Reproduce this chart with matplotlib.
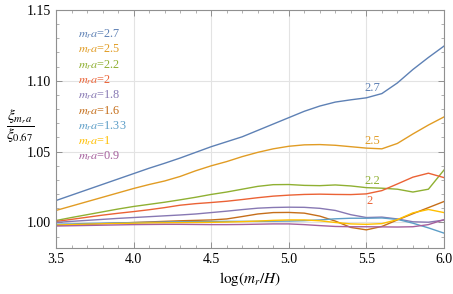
import numpy as np
import matplotlib
matplotlib.use("Agg")
import matplotlib.pyplot as plt
from matplotlib.ticker import MultipleLocator, FormatStrFormatter

plt.rcParams['font.family'] = ['Liberation Serif', 'DejaVu Serif']
plt.rcParams['mathtext.fontset'] = 'stix'

# data
x = [3.5, 3.6, 3.7, 3.8, 3.9, 4.0, 4.1, 4.2, 4.3, 4.4, 4.5, 4.6, 4.7,
     4.8, 4.9, 5.0, 5.1, 5.2, 5.3, 5.4, 5.5, 5.6, 5.7, 5.8, 5.9, 6.0]

labels = ['2.7', '2.5', '2.2', '2', '1.8', '1.6', '1.33', '1', '0.9']
colors = ['#5E81B5', '#E19C24', '#8FB032', '#EB6235', '#8778B3',
          '#C56E1A', '#5D9EC7', '#FFBF00', '#A5609D']

y27 = [1.0155, 1.0193, 1.0231, 1.0269, 1.0307, 1.0345, 1.0383, 1.0418, 1.0455,
       1.0495, 1.0535, 1.0570, 1.0605, 1.0650, 1.0695, 1.0740, 1.0785, 1.0822,
       1.0850, 1.0866, 1.0880, 1.0910, 1.0985, 1.1080, 1.1165, 1.1245]
y25 = [1.0085, 1.0116, 1.0147, 1.0178, 1.0209, 1.0240, 1.0268, 1.0293, 1.0325,
       1.0365, 1.0400, 1.0430, 1.0465, 1.0495, 1.0520, 1.0538, 1.0548, 1.0550,
       1.0545, 1.0535, 1.0525, 1.0520, 1.0558, 1.0625, 1.0688, 1.0745]
y22 = [1.0014, 1.0035, 1.0055, 1.0075, 1.0095, 1.0113, 1.0128, 1.0143, 1.0160,
       1.0178, 1.0198, 1.0215, 1.0235, 1.0255, 1.0267, 1.0268, 1.0262, 1.0260,
       1.0265, 1.0258, 1.0246, 1.0242, 1.0235, 1.0215, 1.0235, 1.0370]
y20 = [1.0007, 1.0022, 1.0037, 1.0052, 1.0065, 1.0077, 1.0090, 1.0105, 1.0122,
       1.0133, 1.0141, 1.0150, 1.0162, 1.0175, 1.0186, 1.0193, 1.0198, 1.0200,
       1.0198, 1.0197, 1.0202, 1.0225, 1.0272, 1.0320, 1.0348, 1.0317]
y18 = [1.0000, 1.0008, 1.0015, 1.0022, 1.0029, 1.0035, 1.0041, 1.0047, 1.0053,
       1.0060, 1.0070, 1.0080, 1.0091, 1.0101, 1.0106, 1.0108, 1.0107, 1.0100,
       1.0085, 1.0055, 1.0035, 1.0038, 1.0025, 1.0005, 1.0002, 1.0017]
y16 = [0.9980, 0.9984, 0.9988, 0.9992, 0.9996, 1.0000, 1.0004, 1.0008, 1.0012,
       1.0015, 1.0018, 1.0025, 1.0042, 1.0060, 1.0070, 1.0071, 1.0066, 1.0045,
       1.0010, 0.9965, 0.9948, 0.9972, 1.0018, 1.0062, 1.0105, 1.0148]
y133 = [0.9988, 0.9990, 0.9993, 0.9995, 0.9997, 0.9999, 1.0001, 1.0003, 1.0005,
        1.0006, 1.0007, 1.0008, 1.0008, 1.0008, 1.0009, 1.0010, 1.0013, 1.0018,
        1.0026, 1.0030, 1.0030, 1.0032, 1.0022, 0.9995, 0.9962, 0.9925]
y10 = [0.9982, 0.9985, 0.9988, 0.9991, 0.9993, 0.9995, 0.9997, 0.9998, 0.9999,
       1.0000, 1.0001, 1.0003, 1.0006, 1.0010, 1.0015, 1.0018, 1.0018, 1.0012,
       1.0000, 0.9990, 0.9987, 0.9992, 1.0020, 1.0068, 1.0092, 1.0070]
y09 = [0.9975, 0.9977, 0.9979, 0.9981, 0.9983, 0.9985, 0.9986, 0.9987, 0.9987,
       0.9986, 0.9985, 0.9985, 0.9986, 0.9988, 0.9990, 0.9990, 0.9985, 0.9978,
       0.9972, 0.9970, 0.9970, 0.9969, 0.9968, 0.9970, 0.9985, 1.0020]

series = [y27, y25, y22, y20, y18, y16, y133, y10, y09]

# curve labels near x=5.5
curve_labels = ['2.7', '2.5', '2.2', '2']
curve_lx = [5.54, 5.54, 5.54, 5.52]
curve_ly = [1.0950, 1.0577, 1.0296, 1.0155]

fig = plt.figure(figsize=(4.53, 2.94), dpi=100)
ax = fig.add_axes([0.1236, 0.1565, 0.8564, 0.8095])

for ys, c in zip(series, colors):
    ax.plot(x, ys, color=c, lw=1.0)

for t, lx, ly, c in zip(curve_labels, curve_lx, curve_ly, colors):
    ax.text(lx, ly, t, color=c, fontsize=9, ha='center', va='center')

for i, (lab, c) in enumerate(zip(labels, colors)):
    ax.text(0.057, 0.898 - i * 0.0643, r'$m_r a$=' + lab, color=c,
            fontsize=8.8, ha='left', va='center', transform=ax.transAxes)

ax.set_xlim(3.5, 6.0)
ax.set_ylim(0.982, 1.15)
ax.xaxis.set_major_locator(MultipleLocator(0.5))
ax.xaxis.set_minor_locator(MultipleLocator(0.1))
ax.yaxis.set_major_locator(MultipleLocator(0.05))
ax.yaxis.set_minor_locator(MultipleLocator(0.01))
ax.xaxis.set_major_formatter(FormatStrFormatter('%.1f'))
ax.yaxis.set_major_formatter(FormatStrFormatter('%.2f'))

ax.grid(True, which='major', color='#e3e3e3', lw=0.8)
ax.set_axisbelow(True)
ax.tick_params(which='both', direction='in', top=True, right=True,
               color='#909090', labelsize=10)
ax.tick_params(which='major', length=4, width=0.7)
ax.tick_params(which='minor', length=2, width=0.5)
for s in ax.spines.values():
    s.set_color('#909090')
    s.set_linewidth(0.8)

ax.set_xlabel(r'$\log(m_r/H)$', fontsize=11, labelpad=3)
fig.text(0.045, 0.57, r'$\dfrac{\xi_{m_r a}}{\xi_{0.67}}$', fontsize=11,
         ha='center', va='center')

fig.savefig('out.png', dpi=100)
